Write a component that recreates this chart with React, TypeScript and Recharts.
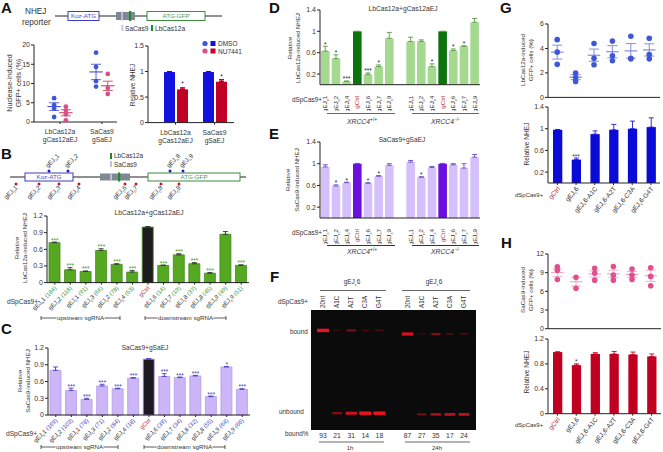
import React from 'react';
import {
  Bar,
  BarChart,
  CartesianGrid,
  Cell,
  ComposedChart,
  ErrorBar,
  LabelList,
  Line,
  Scatter,
  ScatterChart,
  XAxis,
  YAxis,
} from 'recharts';

const FONT = '"Liberation Sans", Arial, sans-serif';
const INK = '#333';
const RED_TEXT = '#b8323c';

// Panel A
const aGroups = ['LbCas12a|gCas12aEJ', 'SaCas9|gSaEJ'];
const aDmsoDots = [[6.2, 4.4, 3.5, 1.3], [18, 14.3, 10.6, 9.2]];
const aNuDots = [[4.0, 3.0, 2.0, 0.4], [12.5, 8.8, 7.3]];
const aDmsoMean = [4.0, 13.0];
const aDmsoSem = [1.0, 2.0];
const aNuMean = [2.4, 9.4];
const aNuSem = [0.8, 1.2];
const aBarDmso = [0.99, 0.99];
const aBarDmsoErr = [0.005, 0.005];
const aBarNu = [0.65, 0.8];
const aBarNuErr = [0.03, 0.04];
const aBarNuSig = ['*', '*'];

// Panel B
const bLabels = ['gEJ_N1 (184)', 'gEJ_N2 (118)', 'gEJ_C1 (91)', 'gEJ_C3 (66)', 'gEJ_C2 (78)', 'gEJ_C4 (53)', 'gCtrl', 'gEJ_C6 (14)', 'gEJ_C7 (19)', 'gEJ_C8 (37)', 'gEJ_N8 (45)', 'gEJ_N9 (49)', 'gEJ_C9 (51)'];
const bValues = [0.72, 0.23, 0.2, 0.58, 0.33, 0.19, 1.0, 0.31, 0.5, 0.34, 0.17, 0.87, 0.31];
const bErrors = [0.01, 0.04, 0.01, 0.03, 0.01, 0.03, 0.01, 0.005, 0.02, 0.02, 0.01, 0.05, 0.01];
const bStars = ['***', '***', '***', '***', '***', '***', '', '***', '***', '***', '***', '', '***'];

// Panel C
const cLabels = ['gEJ_C1 (169)', 'gEJ_C2 (103)', 'gEJ_C1 (78)', 'gEJ_C3 (71)', 'gEJ_C2 (84)', 'gEJ_C4 (18)', 'gCtrl', 'gEJ_C6 (39)', 'gEJ_C7 (34)', 'gEJ_C8 (32)', 'gEJ_N8 (55)', 'gEJ_N9 (64)', 'gEJ_C9 (66)'];
const cValues = [0.8, 0.44, 0.28, 0.52, 0.47, 0.66, 1.0, 0.69, 0.67, 0.7, 0.33, 0.86, 0.46];
const cErrors = [0.06, 0.04, 0.02, 0.03, 0.01, 0.01, 0.01, 0.05, 0.01, 0.01, 0.01, 0.01, 0.01];
const cStars = ['', '***', '***', '***', '***', '***', '', '***', '***', '***', '***', '*', '***'];

// Panels D and E share the guide layout, with an empty slot between the genotypes
const xrccLabels = ['gEJ_C1', 'gEJ_N2', 'gEJ_C4', 'gCtrl', 'gEJ_C6', 'gEJ_C7', 'gEJ_C9', '', 'gEJ_C1', 'gEJ_N2', 'gEJ_C4', 'gCtrl', 'gEJ_C6', 'gEJ_C7', 'gEJ_C9'];
const dValues = [0.63, 0.49, 0.06, 1.0, 0.19, 0.34, 0.87, null, 0.81, 0.81, 0.34, 1.0, 0.64, 0.72, 1.17];
const dErrors = [0.09, 0.07, 0.01, 0, 0.03, 0.03, 0.11, 0, 0.08, 0.03, 0.05, 0, 0.03, 0.01, 0.07];
const dStars = ['*', '*', '***', '', '***', '*', '', '', '', '', '*', '', '*', '*', ''];
const eValues = [0.94, 0.59, 0.65, 1.0, 0.64, 0.77, 0.97, null, 1.03, 0.75, 0.93, 1.0, 0.98, 0.92, 1.12];
const eErrors = [0.04, 0.02, 0.01, 0.005, 0.01, 0.01, 0.03, 0, 0.03, 0.01, 0.02, 0.005, 0.02, 0.08, 0.05];
const eStars = ['', '*', '*', '', '*', '*', '', '', '', '*', '', '', '', '', ''];

// Panel F
const gelLanes = ['20nt', 'A1C', 'A2T', 'C3A', 'G4T', '', '20nt', 'A1C', 'A2T', 'C3A', 'G4T'];
const gelBoundPct = ['93', '21', '31', '14', '18', '', '87', '27', '35', '17', '24'];
const gelBound = [1, 0.1, 0.45, 0.15, 0.2, 0, 0.9, 0.07, 0.45, 0.2, 0.2];
const gelUnbound = [0, 0.5, 0.85, 1, 1, 0, 0, 0.4, 0.65, 0.75, 0.75];

// Panels G and H
const mutantLabels = ['gCtrl', 'gEJ_C6', 'gEJ_C6-A1C', 'gEJ_C6-A2T', 'gEJ_C6-C3A', 'gEJ_C6-G4T'];
const gDots = [[4.72, 3.7, 2.7], [2.0, 1.63, 1.3], [4.4, 3.2, 2.67], [4.6, 3.4, 3.0], [5.0, 3.2, 3.15], [4.83, 3.5, 3.15]];
const gMeans = [3.7, 1.65, 3.45, 3.73, 3.8, 3.88];
const gSems = [0.57, 0.2, 0.5, 0.5, 0.6, 0.5];
const gBars = [0.98, 0.43, 0.9, 0.98, 1.0, 1.03];
const gBarErrors = [0.005, 0.03, 0.06, 0.1, 0.14, 0.17];
const gStars = ['', '***', '', '', '', ''];
const hDots = [[9.96, 9.4, 7.9], [8.25, 6.5], [9.7, 8.9, 7.8], [10, 8.6, 7.8], [9.6, 8.6, 7.9], [9.8, 8.4, 6.9]];
const hMeans = [9.0, 7.55, 8.8, 8.8, 8.7, 8.5];
const hSems = [0.6, 0.7, 0.5, 0.6, 0.5, 0.9];
const hBars = [0.99, 0.78, 0.96, 0.96, 0.95, 0.92];
const hBarErrors = [0.003, 0.02, 0.02, 0.04, 0.04, 0.04];
const hStars = ['', '*', '', '', '', ''];

const AXIS_W = 24;

// gEJ_C6 style names: the letter after the underscore is a subscript
function richParts(label: string, size: number, suffixFill?: string) {
  const m = label.match(/^gEJ_([CN])(.*?)( \(\d+\))?$/);
  if (!m) return <tspan fill={RED_TEXT}>{label}</tspan>;
  return (
    <>
      <tspan>gEJ</tspan>
      <tspan fontSize={size * 0.68} dy={size * 0.25}>{m[1].toLowerCase()}</tspan>
      <tspan dy={-size * 0.25}>{m[2]}</tspan>
      {m[3] ? <tspan fill={suffixFill}>{m[3]}</tspan> : null}
    </>
  );
}

function RichTick({ x, y, payload, rot, size, suffixFill, dx, dy }: any) {
  if (!payload.value) return null;
  return (
    <text
      transform={`translate(${x + dx},${y + dy}) rotate(${rot})`}
      textAnchor="end"
      fontSize={size}
      fontFamily={FONT}
      fill={INK}
    >
      {richParts(payload.value, size, suffixFill)}
    </text>
  );
}

function BarPanel({
  axisX, topY, zeroY, right, labels, values, errors, stars, domain, ticks, fills, stroke,
  barSize, starFill = '#222', errColor = '#333', tickLine = true, rot = -45, suffixFill,
  tickDx = 2, tickDy = 3, labelSize = 5.9, bottom = 60,
}: any) {
  const rows = labels.map((label: string, i: number) => ({
    label,
    value: values[i],
    range: [0, errors[i]],
    cap: values[i] == null ? null : values[i] + errors[i],
    sig: stars[i] || '',
  }));
  return (
    <div style={{ position: 'absolute', left: axisX - AXIS_W, top: topY - 6 }}>
      <ComposedChart
        width={right - axisX + AXIS_W}
        height={zeroY - topY + 6 + bottom}
        data={rows}
        margin={{ top: 6, right: 0, bottom: 0, left: 0 }}
      >
        <XAxis
          dataKey="label"
          height={bottom}
          interval={0}
          axisLine={{ stroke: '#222' }}
          tickLine={tickLine ? { stroke: '#222' } : false}
          tickSize={2}
          tickMargin={1}
          tick={(p: any) => (
            <RichTick {...p} rot={rot} size={labelSize} suffixFill={suffixFill} dx={tickDx} dy={tickDy} />
          )}
        />
        <YAxis
          width={AXIS_W}
          domain={domain}
          ticks={ticks}
          axisLine={{ stroke: '#222' }}
          tickLine={{ stroke: '#222' }}
          tickSize={3}
          tickMargin={1}
          tick={{ fontSize: 7, fill: INK, fontFamily: FONT }}
        />
        <Bar dataKey="value" barSize={barSize} isAnimationActive={false} stroke={stroke} strokeWidth={stroke ? 0.8 : 0}>
          {rows.map((_: any, i: number) => (
            <Cell key={i} fill={fills(labels[i])} />
          ))}
          <ErrorBar dataKey="range" direction="y" width={2.5} stroke={errColor} strokeWidth={0.9} isAnimationActive={false} />
        </Bar>
        <Line dataKey="cap" stroke="none" dot={false} legendType="none" isAnimationActive={false}>
          <LabelList dataKey="sig" position="top" offset={-0.5} fontSize={6.5} fill={starFill} fontFamily={FONT} />
        </Line>
      </ComposedChart>
    </div>
  );
}

function ScatterPanel({ axisX, topY, zeroY, right, domain, ticks, xDomain, xTicks, series, tickRender, bottom = 6 }: any) {
  return (
    <div style={{ position: 'absolute', left: axisX - AXIS_W, top: topY - 6 }}>
      <ScatterChart
        width={right - axisX + AXIS_W}
        height={zeroY - topY + 6 + bottom}
        margin={{ top: 6, right: 0, bottom: 0, left: 0 }}
      >
        <XAxis
          type="number"
          dataKey="x"
          domain={xDomain}
          ticks={xTicks}
          interval={0}
          height={bottom}
          axisLine={{ stroke: '#222' }}
          tickLine={{ stroke: '#222' }}
          tickSize={2}
          tick={tickRender || false}
        />
        <YAxis
          type="number"
          dataKey="y"
          width={AXIS_W}
          domain={domain}
          ticks={ticks}
          axisLine={{ stroke: '#222' }}
          tickLine={{ stroke: '#222' }}
          tickSize={3}
          tickMargin={1}
          tick={{ fontSize: 7, fill: INK, fontFamily: FONT }}
        />
        {series.map((s: any, i: number) => (
          <React.Fragment key={i}>
            <Scatter
              data={s.points}
              shape={(p: any) => <circle cx={p.cx} cy={p.cy} r={s.r} fill={s.color} />}
              isAnimationActive={false}
            />
            <Scatter data={s.means} shape={() => null} isAnimationActive={false}>
              <ErrorBar dataKey="halfWidth" direction="x" width={0} stroke={s.line} strokeWidth={1} isAnimationActive={false} />
              <ErrorBar dataKey="sem" direction="y" width={5} stroke={s.line} strokeWidth={0.8} isAnimationActive={false} />
            </Scatter>
          </React.Fragment>
        ))}
      </ScatterChart>
    </div>
  );
}

function scatterSeries(dots: number[][], means: number[], sems: number[], color: string, line: string, shift: number, halfWidth: number, r: number) {
  return {
    color,
    line,
    r,
    points: dots.flatMap((ys, i) => ys.map((y) => ({ x: i + 1 + shift, y }))),
    means: means.map((y, i) => ({ x: i + 1 + shift, y, sem: sems[i], halfWidth })),
  };
}

function GelBand(p: any) {
  const v = p.payload.v;
  if (!v) return null;
  const w = 7 + 5 * v;
  const h = 1.2 + 2.2 * v;
  return (
    <rect
      x={p.cx - w / 2}
      y={p.cy - h / 2}
      width={w}
      height={h}
      fill="#f01020"
      opacity={0.1 + 0.9 * v}
      style={{ filter: 'blur(0.5px)' }}
    />
  );
}

function Gel() {
  const bound = gelBound.map((v, i) => ({ x: i, y: i < 5 ? 0.83 : 0.8, v }));
  const unbound = gelUnbound.map((v, i) => ({ x: i, y: i < 5 ? 0.14 : 0.13, v }));
  return (
    <div style={{ position: 'absolute', left: 311, top: 310 }}>
      <ScatterChart width={165} height={120} margin={{ top: 0, right: 0, bottom: 0, left: 0 }}>
        <CartesianGrid fill="#0b0b0b" horizontal={false} vertical={false} />
        <XAxis type="number" dataKey="x" domain={[-0.85, 10.85]} hide />
        <YAxis type="number" dataKey="y" domain={[0, 1]} hide />
        <Scatter data={bound} shape={GelBand} isAnimationActive={false} />
        <Scatter data={unbound} shape={GelBand} isAnimationActive={false} />
      </ScatterChart>
    </div>
  );
}

function T({ x, y, s = 6.5, anchor = 'start', fill = INK, rot, bold, italic, children }: any) {
  return (
    <text
      x={rot == null ? x : undefined}
      y={rot == null ? y : undefined}
      transform={rot == null ? undefined : `translate(${x},${y}) rotate(${rot})`}
      fontSize={s}
      textAnchor={anchor}
      fill={fill}
      fontWeight={bold ? 700 : 400}
      fontStyle={italic ? 'italic' : 'normal'}
      fontFamily={FONT}
    >
      {children}
    </text>
  );
}

function Bracket({ x1, x2, y, label, gap = 24 }: any) {
  const mid = (x1 + x2) / 2;
  return (
    <g stroke="#333" strokeWidth={0.8}>
      <line x1={x1} x2={mid - gap} y1={y} y2={y} />
      <line x1={mid + gap} x2={x2} y1={y} y2={y} />
      <line x1={x1} x2={x1} y1={y - 2} y2={y + 2} />
      <line x1={x2} x2={x2} y1={y - 2} y2={y + 2} />
      <g stroke="none">
        <T x={mid} y={y + 2} s={6.2} anchor="middle">{label}</T>
      </g>
    </g>
  );
}

function Construct({ y, lineFrom, lineTo, koz, gray, sa, lb, gfp, boxH }: any) {
  return (
    <g>
      <line x1={lineFrom} x2={lineTo} y1={y} y2={y} stroke="#222" strokeWidth={1.2} />
      <rect x={koz[0]} y={y - boxH / 2} width={koz[1] - koz[0]} height={boxH} fill="#fff" stroke="#3c3cc0" strokeWidth={1} />
      <T x={(koz[0] + koz[1]) / 2} y={y + 2.2} s={6.2} anchor="middle" fill="#4a4ac4">Koz-ATG</T>
      <rect x={gray[0]} y={y - boxH / 2 + 0.5} width={gray[1] - gray[0]} height={boxH - 1} fill="#7e8a91" />
      <rect x={sa - 0.8} y={y - boxH / 2} width={1.8} height={boxH} fill="#cdbcf0" />
      <rect x={lb - 1} y={y - boxH / 2 - 0.5} width={2.2} height={boxH + 1} fill="#1f8a2c" />
      <rect x={gfp[0]} y={y - boxH / 2} width={gfp[1] - gfp[0]} height={boxH} fill="#fff" stroke="#3c8c3c" strokeWidth={1} />
      <T x={(gfp[0] + gfp[1]) / 2} y={y + 2.2} s={6.2} anchor="middle" fill="#4f9a4f">ATG-GFP</T>
    </g>
  );
}

const guideTop = [['gEJ_N1', 49], ['gEJ_N2', 68], ['gEJ_N8', 170], ['gEJ_N9', 183]] as const;
const guideBottom = [['gEJ_C1', 16], ['gEJ_C2', 39], ['gEJ_C3', 59], ['gEJ_C4', 79], ['gEJ_C6', 125], ['gEJ_C7', 136], ['gEJ_C8', 161], ['gEJ_C9', 179]] as const;

function Overlay() {
  const letter = (x: number, y: number, c: string) => <T x={x} y={y} s={15} bold fill="#111">{c}</T>;
  return (
    <svg width={663} height={452} style={{ position: 'absolute', left: 0, top: 0, pointerEvents: 'none' }}>
      {letter(1, 13, 'A')}
      {letter(1, 159, 'B')}
      {letter(1, 334, 'C')}
      {letter(269, 13, 'D')}
      {letter(269, 139, 'E')}
      {letter(270, 282, 'F')}
      {letter(500, 13, 'G')}
      {letter(501, 248, 'H')}

      {/* A header */}
      <T x={25} y={14} s={8.2}>NHEJ</T>
      <T x={22} y={25} s={8.2}>reporter</T>
      <Construct y={16} lineFrom={55} lineTo={222} koz={[68, 99]} gray={[116, 135]} sa={122} lb={130} gfp={[147, 205]} boxH={9} />
      <rect x={121.5} y={25} width={1.8} height={6} fill="#cdbcf0" />
      <T x={125} y={30.5} s={6.6}>SaCas9</T>
      <rect x={151} y={25} width={2} height={6} fill="#1f8a2c" />
      <T x={155} y={30.5} s={6.6}>LbCas12a</T>

      {/* A axis text */}
      <T x={12} y={83} s={7.2} anchor="middle" rot={-90}>Nuclease-induced</T>
      <T x={20.5} y={83} s={7.2} anchor="middle" rot={-90}>GFP+ cells (%)</T>
      <T x={135} y={85} s={6.5} anchor="middle" rot={-90}>Relative NHEJ</T>
      <circle cx={205} cy={43.5} r={2.6} fill="#3d57d8" />
      <rect x={210.5} y={41} width={5} height={5} fill="#1212e0" />
      <T x={218} y={46} s={6.5}>DMSO</T>
      <circle cx={205} cy={51} r={2.6} fill="#d94f8c" />
      <rect x={210.5} y={48.5} width={5} height={5} fill="#c00024" />
      <T x={218} y={53.5} s={6.5}>NU7441</T>

      {/* B header */}
      <Construct y={177} lineFrom={10} lineTo={246} koz={[25, 73]} gray={[100, 130]} sa={111} lb={119} gfp={[148, 240]} boxH={8} />
      <rect x={110} y={153} width={2} height={6} fill="#1f8a2c" />
      <T x={114} y={158} s={6.4}>LbCas12a</T>
      <rect x={110} y={161} width={2} height={6} fill="#cdbcf0" />
      <T x={114} y={166.5} s={6.4}>SaCas9</T>
      {guideTop.map(([name, x]) => (
        <g key={name}>
          <circle cx={x} cy={171} r={1.5} fill="#1c1cc8" />
          <text transform={`translate(${x - 1},${168}) rotate(-45)`} fontSize={6.2} fontFamily={FONT} fill={INK}>
            {richParts(name, 6.2)}
          </text>
        </g>
      ))}
      {guideBottom.map(([name, x]) => (
        <g key={name}>
          <circle cx={x} cy={184} r={1.5} fill="#b81c2c" />
          <text transform={`translate(${x + 2},${188}) rotate(-45)`} fontSize={6.2} fontFamily={FONT} fill={INK} textAnchor="end">
            {richParts(name, 6.2)}
          </text>
        </g>
      ))}

      {/* B, C text */}
      <T x={149} y={215} s={6.7} anchor="middle">LbCas12a+gCas12aEJ</T>
      <T x={19} y={248} s={6.2} anchor="middle" rot={-90}>Relative</T>
      <T x={27} y={248} s={6.2} anchor="middle" rot={-90}>LbCas12a-induced NHEJ</T>
      <T x={7} y={304} s={6.6}>dSpCas9+</T>
      <Bracket x1={41} x2={120} y={318} label="upstream sgRNA" />
      <Bracket x1={145} x2={226} y={318} label="downstream sgRNA" gap={28} />
      <T x={145} y={350} s={6.6} anchor="middle">SaCas9+gSaEJ</T>
      <T x={22} y={381} s={6.2} anchor="middle" rot={-90}>Relative</T>
      <T x={29.5} y={381} s={6.2} anchor="middle" rot={-90}>SaCas9-induced NHEJ</T>
      <T x={6} y={436} s={6.6}>dSpCas9+</T>
      <Bracket x1={41} x2={118} y={447} label="upstream sgRNA" />
      <Bracket x1={144} x2={225} y={447} label="downstream sgRNA" gap={28} />

      {/* D text */}
      <T x={403} y={11} s={6.7} anchor="middle">LbCas12a+gCas12aEJ</T>
      <T x={292} y={48} s={6.2} anchor="middle" rot={-90}>Relative</T>
      <T x={300} y={48} s={6.2} anchor="middle" rot={-90}>LbCas12a-induced NHEJ</T>
      <T x={292} y={102} s={6.4}>dSpCas9+</T>
      <line x1={327} x2={395} y1={113.5} y2={113.5} stroke="#666" strokeWidth={1} />
      <line x1={412} x2={479} y1={113.5} y2={113.5} stroke="#666" strokeWidth={1} />
      <T x={347} y={124} s={6.8} italic>XRCC4</T>
      <T x={370} y={121} s={5}>+/+</T>
      <T x={431} y={124} s={6.8} italic>XRCC4</T>
      <T x={455} y={121} s={5}>-/-</T>

      {/* E text */}
      <T x={402} y={142} s={6.6} anchor="middle">SaCas9+gSaEJ</T>
      <T x={290} y={180} s={6.2} anchor="middle" rot={-90}>Relative</T>
      <T x={299} y={180} s={6.2} anchor="middle" rot={-90}>SaCas9-induced NHEJ</T>
      <T x={292} y={235} s={6.4}>dSpCas9+</T>
      <line x1={327} x2={395} y1={245.5} y2={245.5} stroke="#333" strokeWidth={1} />
      <line x1={412} x2={479} y1={245.5} y2={245.5} stroke="#333" strokeWidth={1} />
      <T x={347} y={254} s={6.8} italic>XRCC4</T>
      <T x={370} y={251} s={5}>+/+</T>
      <T x={431} y={254} s={6.8} italic>XRCC4</T>
      <T x={455} y={251} s={5}>-/-</T>

      {/* F text */}
      <text x={352} y={284} fontSize={6.4} textAnchor="middle" fontFamily={FONT} fill={INK}>{richParts('gEJ_C6', 6.4)}</text>
      <text x={434} y={284} fontSize={6.4} textAnchor="middle" fontFamily={FONT} fill={INK}>{richParts('gEJ_C6', 6.4)}</text>
      <line x1={320} x2={386} y1={290.5} y2={290.5} stroke="#555" strokeWidth={0.9} />
      <line x1={402} x2={470} y1={290.5} y2={290.5} stroke="#555" strokeWidth={0.9} />
      <T x={278} y={304} s={6.4}>dSpCas9+</T>
      {gelLanes.map((lane, i) => (
        <T key={i} x={323 + i * 14.1 + 2} y={308} s={6.3} rot={-90}>{lane}</T>
      ))}
      <T x={290} y={334} s={6.4}>bound</T>
      <T x={279} y={414} s={6.4}>unbound</T>
      <T x={285} y={436} s={6.4}>bound%</T>
      {gelBoundPct.map((pct, i) => (
        <T key={i} x={323 + i * 14.1} y={438} s={6.8} anchor="middle">{pct}</T>
      ))}
      <line x1={319} x2={384} y1={442} y2={442} stroke="#555" strokeWidth={0.9} />
      <line x1={405} x2={470} y1={442} y2={442} stroke="#555" strokeWidth={0.9} />
      <T x={350} y={450} s={6} anchor="middle">1h</T>
      <T x={437} y={450} s={6} anchor="middle">24h</T>

      {/* G text */}
      <T x={525} y={60} s={6.2} anchor="middle" rot={-90}>LbCas12a-induced</T>
      <T x={533} y={60} s={6.2} anchor="middle" rot={-90}>GFP+ cells (%)</T>
      <T x={529} y={144} s={6.6} anchor="middle" rot={-90}>Relative NHEJ</T>
      <T x={515} y={197} s={6}>dSpCas9+</T>

      {/* H text */}
      <T x={525} y={290} s={6.2} anchor="middle" rot={-90}>SaCas9-induced</T>
      <T x={533} y={290} s={6.2} anchor="middle" rot={-90}>GFP+ cells (%)</T>
      <T x={529} y={372} s={6.6} anchor="middle" rot={-90}>Relative NHEJ</T>
      <T x={515} y={427} s={6}>dSpCas9+</T>
    </svg>
  );
}

function groupTickText(x: number, y: number, value: string) {
  const [a, b] = value.split('|');
  return (
    <text textAnchor="middle" fontSize={6.7} fontFamily={FONT} fill={INK}>
      <tspan x={x} y={y + 8}>{a}</tspan>
      <tspan x={x} y={y + 16}>{b}</tspan>
    </text>
  );
}

function GroupTick({ x, y, payload }: any) {
  return groupTickText(x, y, aGroups[Math.round(payload.value) - 1]);
}

function PanelABars() {
  const rows = aGroups.map((g, i) => ({
    group: g,
    dmso: aBarDmso[i],
    dmsoErr: [0, aBarDmsoErr[i]],
    nu: aBarNu[i],
    nuErr: [0, aBarNuErr[i]],
    sig: aBarNuSig[i],
  }));
  return (
    <div style={{ position: 'absolute', left: 148 - AXIS_W, top: 45.7 - 6 }}>
      <BarChart
        width={86 + AXIS_W}
        height={76.6 + 6 + 24}
        data={rows}
        barGap={2}
        margin={{ top: 6, right: 0, bottom: 0, left: 0 }}
      >
        <XAxis
          dataKey="group"
          height={24}
          interval={0}
          padding={{ left: 8, right: 0 }}
          axisLine={{ stroke: '#222' }}
          tickLine={{ stroke: '#222' }}
          tickSize={2}
          tick={(p: any) => groupTickText(p.x, p.y, p.payload.value)}
        />
        <YAxis
          width={AXIS_W}
          domain={[0, 1.5]}
          ticks={[0, 0.5, 1, 1.5]}
          axisLine={{ stroke: '#222' }}
          tickLine={{ stroke: '#222' }}
          tickSize={3}
          tickMargin={1}
          tick={{ fontSize: 7, fill: INK, fontFamily: FONT }}
        />
        <Bar dataKey="dmso" barSize={11} fill="#1212e0" isAnimationActive={false}>
          <ErrorBar dataKey="dmsoErr" direction="y" width={2.5} stroke="#1212e0" isAnimationActive={false} />
        </Bar>
        <Bar dataKey="nu" barSize={11} fill="#c00024" isAnimationActive={false}>
          <ErrorBar dataKey="nuErr" direction="y" width={2.5} stroke="#c00024" isAnimationActive={false} />
          <LabelList dataKey="sig" position="top" offset={3} fontSize={6.5} fill="#222" fontFamily={FONT} />
        </Bar>
      </BarChart>
    </div>
  );
}

export default function App() {
  const aSeries = [
    scatterSeries(aDmsoDots, aDmsoMean, aDmsoSem, '#3d57d8', '#3d3dd0', -0.14, 0.16, 2.4),
    scatterSeries(aNuDots, aNuMean, aNuSem, '#d94f8c', '#c8324a', 0.14, 0.16, 2.4),
  ];
  const gSeries = [scatterSeries(gDots, gMeans, gSems, '#3d57d8', '#6f6fd8', 0, 0.34, 2.8)];
  const hSeries = [scatterSeries(hDots, hMeans, hSems, '#e0508f', '#eb9fb6', 0, 0.34, 2.8)];
  const mutantTicks = [1, 2, 3, 4, 5, 6];

  return (
    <div style={{ position: 'absolute', left: 0, top: 0, width: 663, height: 452, background: '#fff', overflow: 'hidden', fontFamily: FONT }}>
      <ScatterPanel
        axisX={34} topY={45} zeroY={122} right={117}
        domain={[0, 20]} ticks={[0, 5, 10, 15, 20]}
        xDomain={[0.38, 2.36]} xTicks={[1, 2]}
        series={aSeries} tickRender={GroupTick} bottom={24}
      />
      <PanelABars />

      <BarPanel
        axisX={47} topY={215.7} zeroY={282.3} right={249} labels={bLabels} values={bValues} errors={bErrors} stars={bStars}
        domain={[0, 1.2]} ticks={[0, 0.3, 0.6, 0.9, 1.2]} barSize={11} stroke="#3f8a1c"
        fills={(l: string) => (l === 'gCtrl' ? '#1e1c1e' : '#55a81f')} starFill="#3f9a22" suffixFill="#3f9a3f"
      />
      <BarPanel
        axisX={48} topY={348.3} zeroY={415.3} right={250} labels={cLabels} values={cValues} errors={cErrors} stars={cStars}
        domain={[0, 1.2]} ticks={[0, 0.3, 0.6, 0.9, 1.2]} barSize={11} stroke="#b69be8" errColor="#4a3fc0"
        fills={(l: string) => (l === 'gCtrl' ? '#1e1a22' : '#cdb6f7')} starFill="#3c3cc0" suffixFill="#4a4ac8"
      />

      <BarPanel
        axisX={320} topY={10.3} zeroY={85} right={480} labels={xrccLabels} values={dValues} errors={dErrors} stars={dStars}
        domain={[0, 1.4]} ticks={[0, 0.2, 0.4, 0.6, 0.8, 1, 1.2, 1.4]} barSize={8.6} errColor="#5a9a4a"
        fills={(l: string) => (l === 'gCtrl' ? '#0d730d' : '#a4d98f')} tickLine={false} rot={-90} tickDx={2} tickDy={8} labelSize={6.2} bottom={26}
      />
      <BarPanel
        axisX={320} topY={142.3} zeroY={218.3} right={480} labels={xrccLabels} values={eValues} errors={eErrors} stars={eStars}
        domain={[0, 1.4]} ticks={[0, 0.2, 0.4, 0.6, 0.8, 1, 1.2, 1.4]} barSize={8.6} errColor="#6a4ac8"
        fills={(l: string) => (l === 'gCtrl' ? '#6a0fdc' : '#d6c0fb')} tickLine={false} rot={-90} tickDx={2} tickDy={8} labelSize={6.2} bottom={26}
      />

      <Gel />

      <ScatterPanel
        axisX={547.7} topY={24.3} zeroY={97.7} right={660}
        domain={[0, 6]} ticks={[0, 2, 4, 6]} xDomain={[0.5, 6.6]} xTicks={mutantTicks} series={gSeries}
      />
      <BarPanel
        axisX={547.7} topY={107.3} zeroY={183.3} right={660} labels={mutantLabels} values={gBars} errors={gBarErrors} stars={gStars}
        domain={[0, 1.4]} ticks={[0, 0.2, 0.4, 0.6, 0.8, 1, 1.2, 1.4]} barSize={9.3} errColor="#1a1ad8"
        fills={() => '#0b0bd8'} starFill="#333" tickDx={3} tickDy={3} rot={-50} labelSize={6.5}
      />
      <ScatterPanel
        axisX={548} topY={254} zeroY={328.7} right={661}
        domain={[0, 12]} ticks={[0, 3, 6, 9, 12]} xDomain={[0.5, 6.55]} xTicks={mutantTicks} series={hSeries}
      />
      <BarPanel
        axisX={548} topY={339.3} zeroY={414} right={661} labels={mutantLabels} values={hBars} errors={hBarErrors} stars={hStars}
        domain={[0, 1.2]} ticks={[0, 0.2, 0.4, 0.6, 0.8, 1, 1.2]} barSize={9.3} errColor="#c00020"
        fills={() => '#c00020'} starFill="#333" tickDx={3} tickDy={3} rot={-50} labelSize={6.5} bottom={38}
      />

      <Overlay />
    </div>
  );
}
